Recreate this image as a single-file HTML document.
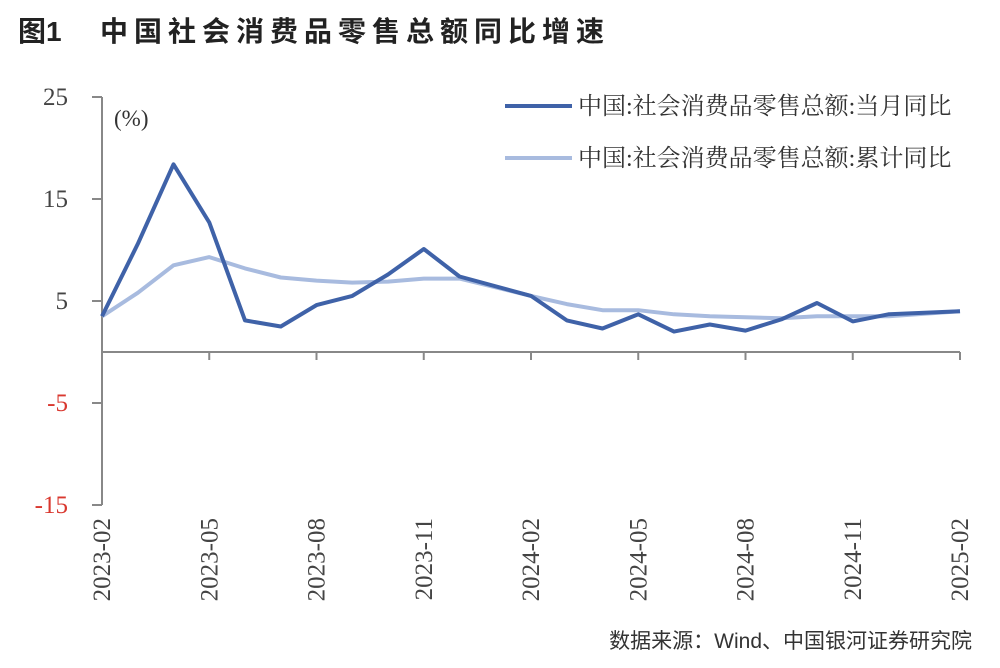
<!DOCTYPE html>
<html><head><meta charset="utf-8"><style>
body{margin:0;background:#fff;width:1000px;height:668px;overflow:hidden}
svg{display:block}
</style></head><body>
<svg width="1000" height="668" xmlns="http://www.w3.org/2000/svg">
<text x="18" y="41" font-family="'Liberation Sans','Noto Sans CJK SC',sans-serif" font-weight="bold" font-size="28" fill="#222">图1</text>
<text x="100" y="41" font-family="'Liberation Sans','Noto Sans CJK SC',sans-serif" font-weight="bold" font-size="28" letter-spacing="6" fill="#222">中国社会消费品零售总额同比增速</text>
<g id="axes"></g>
<g id="series"></g>
<text x="114" y="126" font-family="'Liberation Serif','Noto Serif CJK SC',serif" font-size="23" fill="#333">(%)</text>
<g>
<line x1="505" y1="106" x2="572" y2="106" stroke="#3f62a8" stroke-width="4"/>
<text x="578" y="114" font-family="'Liberation Serif','Noto Serif CJK SC',serif" font-size="24" fill="#333">中国:社会消费品零售总额:当月同比</text>
<line x1="505" y1="158" x2="572" y2="158" stroke="#a8bbdf" stroke-width="4"/>
<text x="578" y="166" font-family="'Liberation Serif','Noto Serif CJK SC',serif" font-size="24" fill="#333">中国:社会消费品零售总额:累计同比</text>
</g>
<text x="972" y="648" text-anchor="end" font-family="'Liberation Sans','Noto Sans CJK SC',sans-serif" font-size="21" fill="#333">数据来源：Wind、中国银河证券研究院</text>
</svg>
<script>
const months=["2023-02","2023-03","2023-04","2023-05","2023-06","2023-07","2023-08","2023-09","2023-10","2023-11","2023-12","2024-01","2024-02","2024-03","2024-04","2024-05","2024-06","2024-07","2024-08","2024-09","2024-10","2024-11","2024-12","2025-01","2025-02"];
const monthly=[3.5,10.6,18.4,12.7,3.1,2.5,4.6,5.5,7.6,10.1,7.4,null,5.5,3.1,2.3,3.7,2.0,2.7,2.1,3.2,4.8,3.0,3.7,null,4.0];
const cumulative=[3.5,5.8,8.5,9.3,8.2,7.3,7.0,6.8,6.9,7.2,7.2,null,5.5,4.7,4.1,4.1,3.7,3.5,3.4,3.3,3.5,3.5,3.5,null,4.0];
const yTicks=[25,15,5,-5,-15];
const xTickLabels=["2023-02","2023-05","2023-08","2023-11","2024-02","2024-05","2024-08","2024-11","2025-02"];
const NS="http://www.w3.org/2000/svg";
const x0=102,x1=960,yTop=97,yBot=505;
const xs=i=>x0+(x1-x0)*i/(months.length-1);
const ys=v=>yTop+(25-v)*(yBot-yTop)/40;
function mk(t,a,p){const e=document.createElementNS(NS,t);for(const k in a)e.setAttribute(k,a[k]);p.appendChild(e);return e;}
const ax=document.getElementById('axes');
const ya=mk('line',{x1:x0,y1:yTop,x2:x0,y2:yBot,stroke:'#888','stroke-width':2},ax);


const xa=mk('line',{x1:x0,y1:ys(0),x2:x1,y2:ys(0),stroke:'#888','stroke-width':2},ax);


yTicks.forEach(v=>{
  mk('line',{x1:x0-10,y1:ys(v),x2:x0,y2:ys(v),stroke:'#888','stroke-width':2},ax);
  const t=mk('text',{x:68,y:ys(v)+8,'text-anchor':'end','font-family':"'Liberation Serif',serif",'font-size':25,fill:v<0?'#d9382f':'#444'},ax);
  t.textContent=v;
  
  
});
xTickLabels.forEach(m=>{
  const i=months.indexOf(m),x=xs(i),y=ys(0);
  mk('line',{x1:x,y1:y,x2:x,y2:y+8,stroke:'#888','stroke-width':2},ax);
  const t=mk('text',{x:0,y:0,'text-anchor':'end','font-family':"'Liberation Serif',serif",'font-size':25,fill:'#444',transform:`translate(${x+8},518) rotate(-90)`},ax);
  t.textContent=m;
  
  
});
const sg=document.getElementById('series');
function path(arr){let d='';arr.forEach((v,i)=>{if(v==null)return;d+=(d?'L':'M')+xs(i).toFixed(1)+','+ys(v).toFixed(1);});return d;}
const pc=mk('path',{d:path(cumulative),fill:'none',stroke:'#a8bbdf','stroke-width':4,'stroke-linejoin':'round'},sg);


const pm=mk('path',{d:path(monthly),fill:'none',stroke:'#3f62a8','stroke-width':4,'stroke-linejoin':'round'},sg);


</script>
</body></html>
